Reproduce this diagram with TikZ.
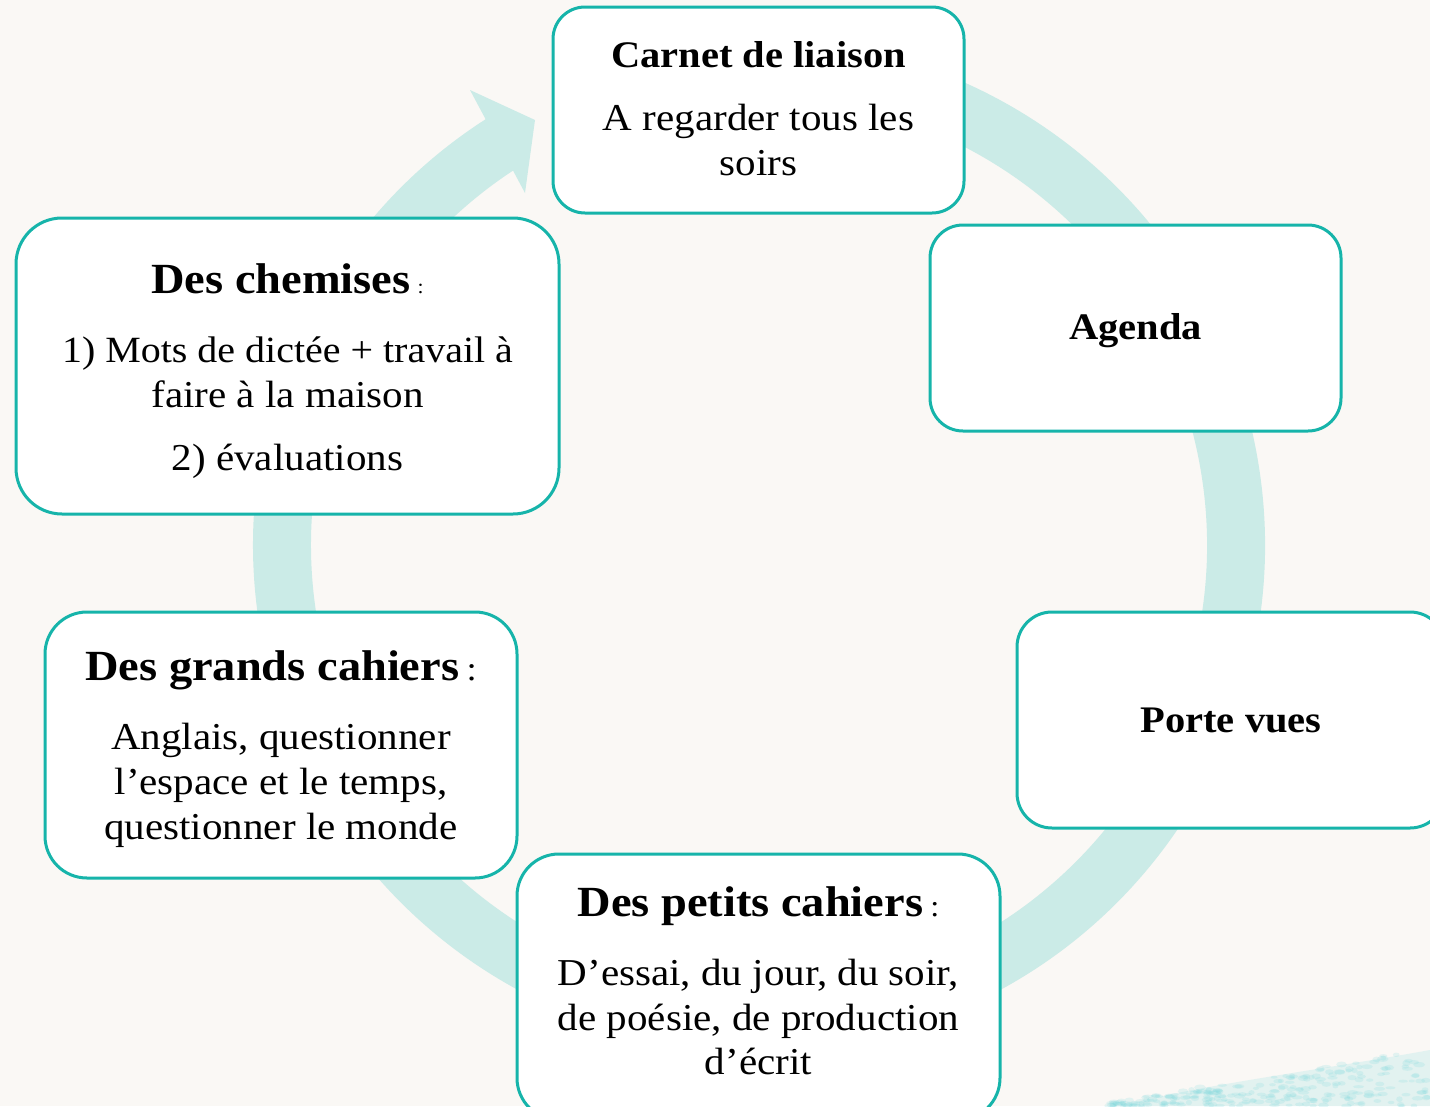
\documentclass[tikz,border=0pt]{standalone}
\usepackage{fontspec}
\setmainfont{Liberation Serif}[FakeStretch=1.08]
\definecolor{bgc}{RGB}{250,248,245}
\definecolor{ringc}{RGB}{203,235,231}
\definecolor{bord}{RGB}{22,180,170}
\definecolor{wash}{RGB}{120,215,220}
\begin{document}
\begin{tikzpicture}[x=1pt,y=-1pt,
  box/.style={draw=bord, line width=3pt, fill=white, inner sep=0pt},
  body/.style={anchor=base, inner sep=0pt, font=\fontsize{38}{45}\selectfont},
  tsmall/.style={anchor=base, inner sep=0pt, font=\fontsize{37.5}{44}\selectfont\bfseries},
  tbig/.style={anchor=base, inner sep=0pt, font=\fontsize{43}{50}\selectfont}]
\useasboundingbox (0,0) rectangle (1430,1106);
\clip (0,0) rectangle (1430,1106);
\fill[bgc] (0,0) rectangle (1430,1106);
% watercolour wash bottom right
\fill[wash, opacity=0.18] (1120,1106) .. controls (1200,1085) and (1320,1070) .. (1430,1050) -- (1430,1106) -- cycle;
\pgfmathsetseed{11}
\foreach \i in {1,...,260}{
  \pgfmathsetmacro\px{1110+320*rnd}
  \pgfmathsetmacro\py{1106-(\px-1090)/340*58*rnd}
  \fill[wash, opacity=0.18] (\px,\py) ellipse[x radius=3+3*rnd, y radius=1.5+1.5*rnd];
}
% ring with arrow
\coordinate (ctr) at (759,545);
\draw[ringc, line width=58pt] (ctr) ++(-100:477) arc[start angle=-100, end angle=237.5, radius=477];
\coordinate (hb1) at (470,90);
\coordinate (htip) at (535,120);
\coordinate (hb2) at (525,193);
\fill[ringc] (hb1) -- (htip) -- (hb2) -- cycle;
% boxes
\node[box, rounded corners=32pt, minimum width=411pt, minimum height=206pt] (carnet) at (758.5,110) {};
\node[box, rounded corners=33pt, minimum width=411pt, minimum height=206pt] (agenda) at (1135.5,328) {};
\node[box, rounded corners=35pt, minimum width=428pt, minimum height=216pt] (porte) at (1231,720) {};
\node[box, rounded corners=42pt, minimum width=483pt, minimum height=266pt] (petits) at (758.5,987) {};
\node[box, rounded corners=42pt, minimum width=472pt, minimum height=266pt] (grands) at (281,745) {};
\node[box, rounded corners=46pt, minimum width=543pt, minimum height=296pt] (chemises) at (287.5,366) {};
% texts
\node[tsmall] (t1) at (758.5,67) {Carnet de liaison};
\node[body] (t2) at (758.5,130) {A regarder tous les};
\node[body] (t3) at (758.5,175) {soirs};
\node[tsmall] (t4) at (1135.5,339) {Agenda};
\node[tsmall] (t5) at (1231,732) {Porte vues};
\node[tbig] (t6) at (287.5,293) {\bfseries Des chemises\,{\fontsize{20}{20}\selectfont\mdseries :}};
\node[body] (t7) at (287.5,362) {\fontsize{37}{44}\selectfont 1) Mots de dictée + travail à};
\node[body] (t8) at (287.5,407) {faire à la maison};
\node[body] (t9) at (287.5,470) {2) évaluations};
\node[tbig] (t10) at (281,680) {\bfseries Des grands cahiers\,{\fontsize{34}{34}\selectfont\mdseries :}};
\node[body] (t11) at (281,749) {Anglais, questionner};
\node[body] (t12) at (281,794) {l’espace et le temps,};
\node[body] (t13) at (281,839) {questionner le monde};
\node[tbig] (t14) at (758.5,916) {\bfseries Des petits cahiers\,{\fontsize{30}{30}\selectfont\mdseries :}};
\node[body] (t15) at (758.5,985) {D’essai, du jour, du soir,};
\node[body] (t16) at (758.5,1030) {de poésie, de production};
\node[body] (t17) at (758.5,1074) {d’écrit};
\end{tikzpicture}
\end{document}
